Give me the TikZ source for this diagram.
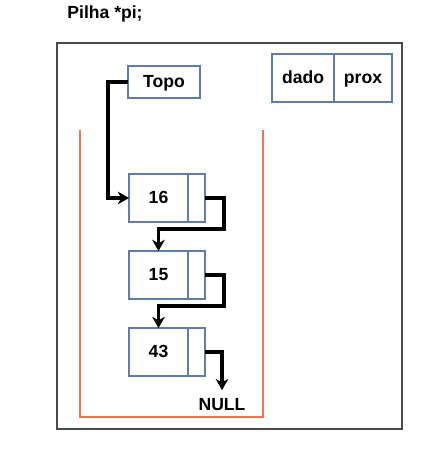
\documentclass[tikz,border=0pt]{standalone}
\usepackage{fontspec}
\setmainfont{Liberation Sans}
\usepackage{tikz}
\usetikzlibrary{arrows.meta}
\usetikzlibrary{positioning}
\definecolor{cellblue}{RGB}{96,124,170}
\definecolor{stackorange}{RGB}{236,116,84}
\definecolor{framegray}{RGB}{72,72,72}

\begin{document}
\begin{tikzpicture}[x=0.025cm,y=-0.025cm,
    every node/.style={font=\bfseries\fontsize{12.5}{14}\selectfont},
    cell/.style={draw=cellblue,line width=1.2pt,fill=white,inner sep=0pt,outer sep=0pt,
      minimum height=1.2cm,text height=0.72em,text depth=0pt},
    link/.style={line width=2.2pt,-{Stealth[length=8pt,width=9pt]}}]

      \useasboundingbox (0,0) rectangle (443,465);

      \node (title) at (105,14) {Pilha *pi;};
      \draw [framegray,line width=1.8pt] (57,43) rectangle (402,429);

      % pilha
      \draw [stackorange,line width=1.5pt] (80,130) -- (80,417) -- (263,417) -- (263,130);

      % legenda
      \node [cell,minimum width=1.55cm] (dado) at (303,78) {dado};
      \node [cell,minimum width=1.45cm,right=0pt of dado] (prox) {prox};

      \node [cell,minimum width=1.8cm,minimum height=0.8cm] (topo) at (164,82) {Topo};

      \node [cell,minimum width=1.475cm] (n16) at (158.5,198) {16};
      \node [cell,minimum width=0.425cm,right=0pt of n16] (p16) {};

      \node [cell,minimum width=1.475cm,below=0.725cm of n16] (n15) {15};
      \node [cell,minimum width=0.425cm,right=0pt of n15] (p15) {};

      \node [cell,minimum width=1.475cm,below=0.725cm of n15] (n43) {43};
      \node [cell,minimum width=0.425cm,right=0pt of n43] (p43) {};

      \node [inner sep=1pt] (null) at (222,405) {NULL};

      \draw [link] (topo.west) -- ++(-20,0) |- (n16.west);
      \draw [link] (p16.east) -- ++(19,0) -- ++(0,31) -| (n15.north);
      \draw [link] (p15.east) -- ++(19,0) -- ++(0,31) -| (n43.north);
      \draw [link] (p43.east) -| ([yshift=5pt]null.north);

\end{tikzpicture}
\end{document}
